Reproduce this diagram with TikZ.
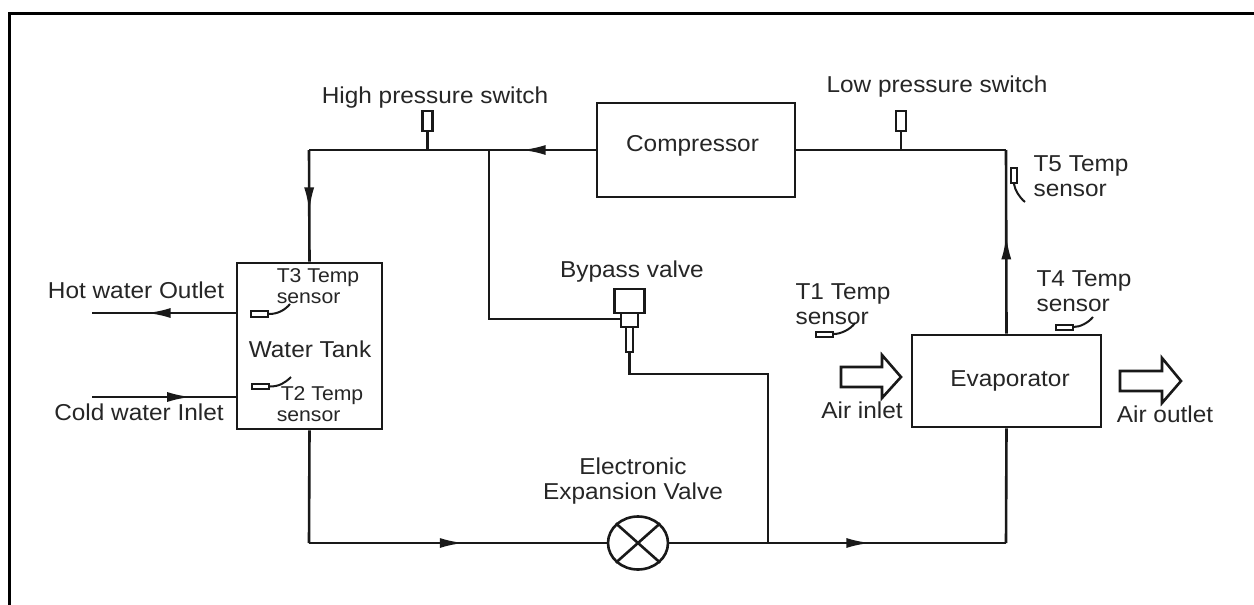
\documentclass[tikz,border=0pt]{standalone}
\usepackage{fontspec}
\setmainfont[FakeStretch=1.06]{Liberation Sans}
\usetikzlibrary{arrows.meta,decorations.markings,shapes.geometric}
\tikzset{
  pipe/.style={draw=black!90,line width=2.6pt},
  box/.style={draw=black!90,line width=2.6pt,fill=white,inner sep=0pt},
  lbl/.style={font=\fontsize{23}{25}\selectfont,text=black!85,inner sep=0pt,align=center},
  small/.style={font=\fontsize{20}{21.5}\selectfont,text=black!85,inner sep=0pt,align=left},
  flow/.style={postaction={decorate},decoration={markings,mark=at position #1 with {\arrow{Latex[length=24pt,width=10pt]}}}},
  hollow/.style={draw=black!90,line width=2.6pt,fill=white,line join=miter},
  probe/.style={draw=black!90,line width=2pt,fill=white,inner sep=0pt},
  lead/.style={draw=black!90,line width=2pt}
}
\begin{document}
\begin{tikzpicture}[x=1pt,y=-1pt]
\useasboundingbox (0,0) rectangle (1254,605);
\fill[white] (0,0) rectangle (1254,605);
\draw[line width=3pt,draw=black] (9.5,605) -- (9.5,13) -- (1254,13);

\node[box,minimum width=198pt,minimum height=94pt] (comp) at (696,150) {};
\node[lbl] (compt) at (692.5,145.5) {Compressor};
\node[box,minimum width=145pt,minimum height=166pt] (tank) at (309.5,346) {};
\node[lbl] (tankt) at (310,349) {Water Tank};
\node[box,minimum width=189pt,minimum height=92pt] (evap) at (1006.5,381) {};
\node[lbl] (evapt) at (1010,380.5) {Evaporator};
\node[draw=black!90,line width=2.6pt,ellipse,minimum width=60pt,minimum height=53pt,inner sep=0pt] (eev) at (638,543) {};
\draw[pipe] (eev.north west)--(eev.south east) (eev.north east)--(eev.south west);

% valve body
\node[box,minimum width=30pt,minimum height=24pt] (bv1) at (629.5,301) {};
\node[box,minimum width=17pt,minimum height=14pt] (bv2) at (629.5,320) {};
\node[box,minimum width=7pt,minimum height=25pt] (bv3) at (629.5,339.5) {};

% switches
\node[box,minimum width=10pt,minimum height=20pt] (hps) at (427.5,121) {};
\node[box,minimum width=10pt,minimum height=20pt] (lps) at (901,121) {};

\coordinate (tl) at (309,150);
\coordinate (bl) at (309,543);
\coordinate (br) at (1006,543);
\coordinate (tr) at (1006,150);
\coordinate (hj) at (427.5,150);
\coordinate (lj) at (901,150);
\coordinate (bj) at (489,150);
\coordinate (bc) at (489,319);
\coordinate (vc) at (629.5,374);
\coordinate (vj) at (768,374);
\coordinate (vb) at (768,543);

\draw[pipe,flow=0.44] (comp.west) -- (hj);
\draw[pipe] (hj) -- (tl);
\draw[pipe,flow=0.55] (tl) -- (tank.north);
\draw[pipe] (hps.south) -- (hj);
\draw[pipe] (lps.south) -- (lj);
\draw[pipe] (comp.east) -- (tr);
\draw[pipe,flow=0.535] (evap.north) -- (tr);
\draw[pipe] (bj) -- (bc) -- (bv2.west |- bc);
\draw[pipe] (bv3.south) -- (vc) -- (vj) -- (vb);
\draw[pipe] (tank.south) -- (bl);
\draw[pipe,flow=0.52] (bl) -- (eev.west);
\draw[pipe] (eev.east) -- (vb);
\draw[pipe,flow=0.43] (vb) -- (br);
\draw[pipe] (br) -- (evap.south);

\coordinate (hw) at (92,313);
\coordinate (cw) at (92,397);
\coordinate (ht) at (tank.west |- hw);
\coordinate (ct) at (tank.west |- cw);
\draw[pipe,flow=0.62] (ht) -- (hw);
\draw[pipe,flow=0.69] (cw) -- (ct);

% labels
\node[lbl] (t1) at (435,97.5) {High pressure switch};
\node[lbl] (t2) at (937,86.5) {Low pressure switch};
\node[lbl] (t3) at (136,290.5) {Hot water Outlet};
\node[lbl] (t4) at (139,412.5) {Cold water Inlet};
\node[lbl] (t5) at (632,271.5) {Bypass valve};
\node[lbl] (t6) at (633,481) {Electronic\\Expansion Valve};
\node[lbl] (t7) at (862,410) {Air inlet};
\node[lbl] (t8) at (1165,414) {Air outlet};
\node[lbl,align=left] (t9) at (1081,176) {T5 Temp\\sensor};
\node[lbl,align=left] (t10) at (1084,291) {T4 Temp\\sensor};
\node[lbl,align=left] (t11) at (843,304) {T1 Temp\\sensor};
\node[small] (t12) at (318,286) {T3 Temp\\sensor};
\node[small] (t13) at (320,404) {\hspace*{4pt}T2 Temp\\sensor};

% probes
\node[probe,minimum width=17pt,minimum height=6pt] (p3) at (259.5,314) {};
\draw[lead] (p3.east) .. controls (278,314) and (285,310) .. (290,304);
\node[probe,minimum width=17pt,minimum height=5pt] (p2) at (260.5,386.5) {};
\draw[lead] (p2.east) .. controls (279,386.5) and (285,383) .. (291,377);
\node[probe,minimum width=17pt,minimum height=5pt] (p1) at (824.5,334) {};
\draw[lead] (p1.east) .. controls (840,334) and (850,330) .. (855,323);
\node[probe,minimum width=17pt,minimum height=5pt] (p4) at (1064,327) {};
\draw[lead] (p4.east) .. controls (1080,327) and (1088,323) .. (1093,317);
\node[probe,minimum width=6pt,minimum height=15pt] (p5) at (1014,175.5) {};
\draw[lead] (p5.south) .. controls (1015,190) and (1019,197) .. (1025,202);

% air arrows
\draw[hollow] (841,367) -- (882,367) -- (882,355) -- (901,377) -- (882,398) -- (882,387) -- (841,387) -- cycle;
\draw[hollow] (1120,371) -- (1162,371) -- (1162,358) -- (1181,381) -- (1162,403) -- (1162,391) -- (1120,391) -- cycle;
\end{tikzpicture}
\end{document}
